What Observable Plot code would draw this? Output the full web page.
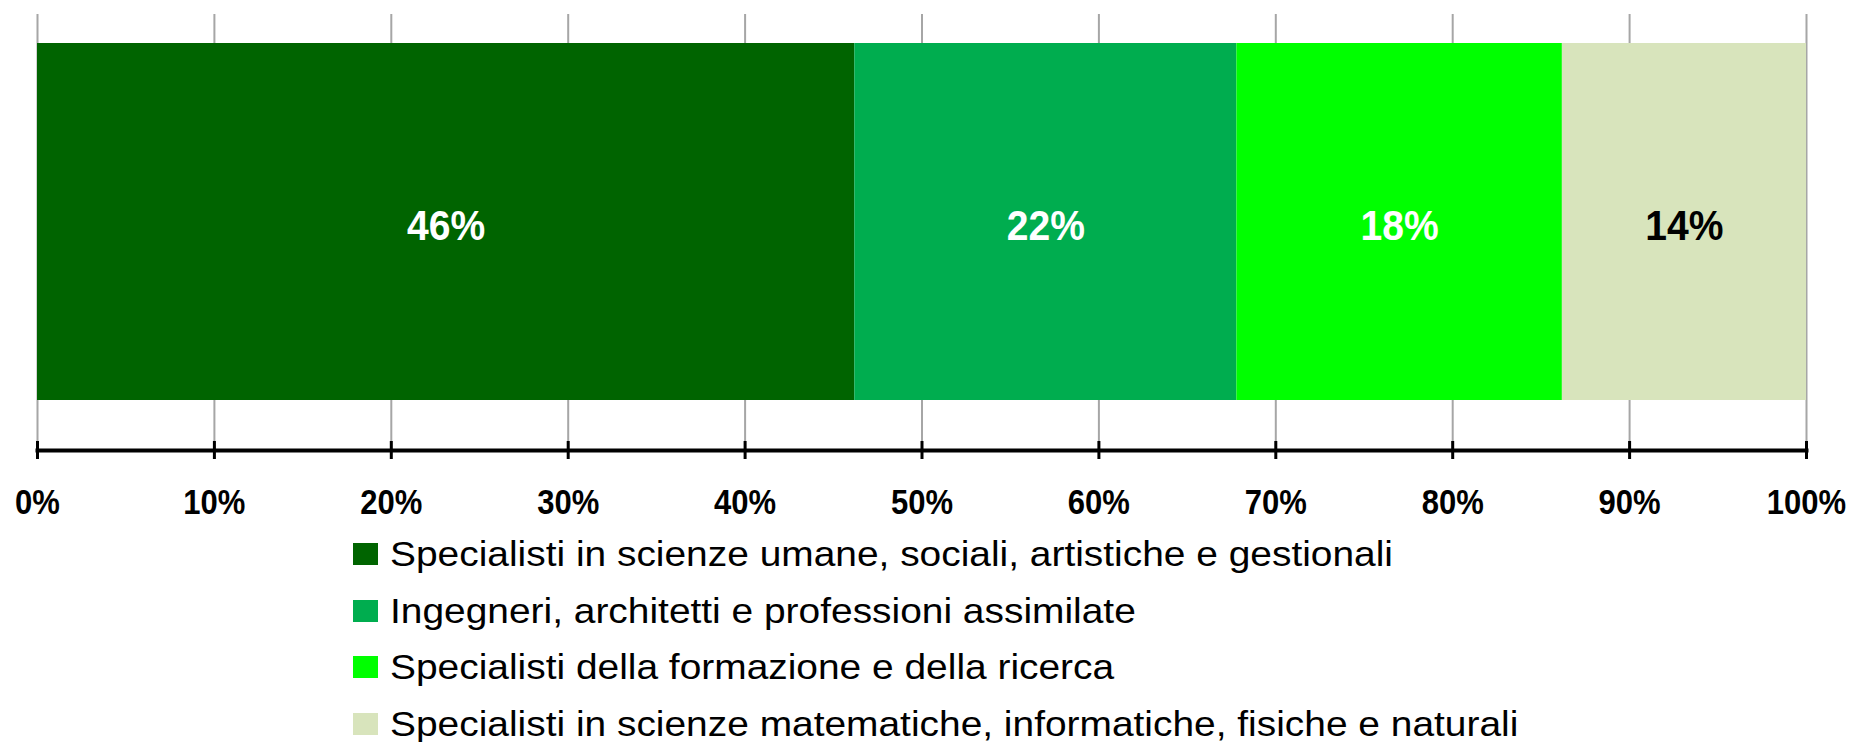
<!DOCTYPE html>
<html>
<head>
<meta charset="utf-8">
<script src="https://cdn.jsdelivr.net/npm/d3@7"></script>
<script src="https://cdn.jsdelivr.net/npm/@observablehq/plot@0.6"></script>
<style>
  body { margin: 0; background: #fff; font-family: "Liberation Sans", Arial, sans-serif; }
  #chart svg { display: block; overflow: visible; }
  #legend { margin-left: 353px; }
  .row { height: 56.5px; display: flex; align-items: center; font-size: 35px; color: #000; white-space: nowrap; }
  .sw { width: 25px; height: 22px; margin-right: 12px; flex: none; }
  .lt { display: inline-block; transform-origin: 0 50%; }
</style>
</head>
<body>
<div id="chart"></div>
<div id="legend"></div>
<script>
const categories = [
  "Specialisti in scienze umane, sociali, artistiche e gestionali",
  "Ingegneri, architetti e professioni assimilate",
  "Specialisti della formazione e della ricerca",
  "Specialisti in scienze matematiche, informatiche, fisiche e naturali"
];
const values = [46.2, 21.6, 18.4, 13.8];
const colors = ["#006400", "#00AD4F", "#00FF00", "#D8E4BC"];
const labelColors = ["#fff", "#fff", "#fff", "#000"];
const tickValues = [0, 10, 20, 30, 40, 50, 60, 70, 80, 90, 100];

const data = categories.map((c, i) => ({cat: c, value: values[i], row: "all", label: Math.round(values[i]) + "%", lc: labelColors[i]}));

const font = '"Liberation Sans", Arial, sans-serif';

const plot = Plot.plot({
  width: 1854,
  height: 526,
  marginLeft: 37,
  marginRight: 48,
  marginTop: 14,
  marginBottom: 76,
  style: {fontFamily: font, background: "#fff", overflow: "visible"},
  x: {domain: [0, 100], axis: null},
  y: {domain: ["all"], axis: null, padding: 0},
  color: {domain: categories, range: colors},
  marks: [
    Plot.ruleX(tickValues, {x: d => d, stroke: "#a6a6a6", strokeWidth: 2}),
    Plot.barX(data, Plot.stackX({x: "value", y: "row", fill: "cat", order: null, insetTop: 29, insetBottom: 50})),
    Plot.text(data, Plot.stackX({x: "value", y: "row", order: null, text: "label", fill: "lc", fontSize: 42, fontWeight: "bold", dy: -6})),
    Plot.frame({anchor: "bottom", stroke: "#000", strokeWidth: 4}),
    Plot.ruleX(tickValues, {x: d => d, stroke: "#000", strokeWidth: 3, insetTop: 427, insetBottom: -9}),
    Plot.text(tickValues, {x: d => d, text: d => d + "%", frameAnchor: "bottom", dy: 52, lineAnchor: "middle", fontSize: 35, fontWeight: "bold", fill: "#000"})
  ]
});
document.getElementById("chart").appendChild(plot);

// narrow the substitute font toward the reference's Calibri-like proportions
d3.select(plot).selectAll("text").each(function() {
  const g = this.closest("g[font-size]");
  const fs = g ? +g.getAttribute("font-size") : 0;
  const k = fs === 42 ? 0.93 : fs === 35 ? 0.886 : 1;
  if (k !== 1) {
    const w = this.getComputedTextLength();
    this.setAttribute("textLength", w * k);
    this.setAttribute("lengthAdjust", "spacingAndGlyphs");
  }
});

const legend = document.getElementById("legend");
const spans = [];
categories.forEach((c, i) => {
  const row = document.createElement("div");
  row.className = "row";
  const sw = document.createElement("span");
  sw.className = "sw";
  sw.style.background = colors[i];
  const t = document.createElement("span");
  t.className = "lt";
  t.textContent = c;
  row.appendChild(sw);
  row.appendChild(t);
  legend.appendChild(row);
  spans.push(t);
});
const k = 1003 / spans[0].getBoundingClientRect().width;
spans.forEach(s => s.style.transform = `scaleX(${k})`);
</script>
</body>
</html>
